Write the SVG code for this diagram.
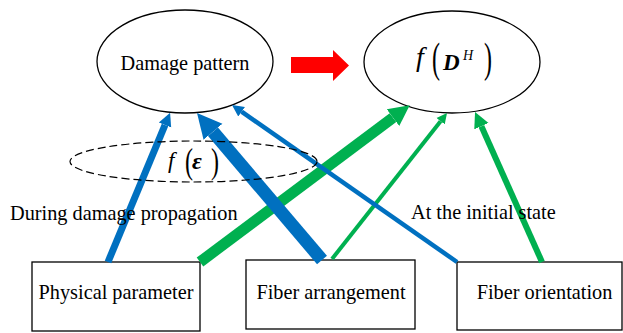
<svg xmlns="http://www.w3.org/2000/svg" width="623" height="333" viewBox="0 0 623 333">
<style>
.node{fill:#fff;stroke:#000;stroke-width:1.3}
text{font-family:"Liberation Serif","Times New Roman","DejaVu Serif",serif;fill:#000}
.lbl{font-size:20.3px}
.mi{font-style:italic}
.mb{font-style:italic;font-weight:bold}
.par{font-size:24px}
.blue{stroke:#0070C0;fill:none}
.green{stroke:#00B050;fill:none}
</style>
<defs>
<marker id="hbB" viewBox="0 0 10 10" refX="0" refY="5" markerWidth="1.9" markerHeight="2.5" orient="auto" markerUnits="strokeWidth"><path d="M0,0 L10,5 L0,10 z" fill="#0070C0"/></marker>
<marker id="hsB" viewBox="0 0 10 10" refX="0" refY="5" markerWidth="2.6" markerHeight="2.8" orient="auto" markerUnits="strokeWidth"><path d="M0,0 L10,5 L0,10 z" fill="#0070C0"/></marker>
<marker id="hbG" viewBox="0 0 10 10" refX="0" refY="5" markerWidth="1.9" markerHeight="2.5" orient="auto" markerUnits="strokeWidth"><path d="M0,0 L10,5 L0,10 z" fill="#00B050"/></marker>
<marker id="hsG" viewBox="0 0 10 10" refX="0" refY="5" markerWidth="2.6" markerHeight="2.8" orient="auto" markerUnits="strokeWidth"><path d="M0,0 L10,5 L0,10 z" fill="#00B050"/></marker>
</defs>

<g id="damage-pattern">
<ellipse class="node" cx="185" cy="61.5" rx="88" ry="51.5"/>
<text class="lbl" x="185" y="70" text-anchor="middle">Damage pattern</text>
</g>

<g id="f-DH">
<ellipse class="node" cx="452" cy="62" rx="88" ry="51"/>
<text class="mi" x="416" y="66" font-size="28">f</text>
<text class="par" transform="translate(432,72) scale(1,1.8)">(</text>
<text class="mb" x="443" y="70" font-size="23">D</text>
<text class="mi" x="463" y="60" font-size="14">H</text>
<text class="par" transform="translate(484,72) scale(1,1.8)">)</text>
</g>

<g id="red-arrow">
<polygon points="291,57 333,57 333,50 349,65.5 333,81 333,73 291,73" fill="#FF0000"/>
</g>

<g id="physical-parameter">
<rect class="node" x="32" y="262" width="168" height="69"/>
<text class="lbl" x="116" y="299" text-anchor="middle">Physical parameter</text>
</g>

<g id="fiber-arrangement">
<rect class="node" x="246" y="260" width="169" height="69"/>
<text class="lbl" x="331" y="299" text-anchor="middle">Fiber arrangement</text>
</g>

<g id="fiber-orientation">
<rect class="node" x="457" y="262" width="165" height="68"/>
<text class="lbl" x="544.5" y="299" text-anchor="middle">Fiber orientation</text>
</g>

<g id="connectors">
<line class="green" x1="200" y1="262" x2="393" y2="117.7" stroke-width="11" marker-end="url(#hbG)"/>
<line class="green" x1="332" y1="259" x2="440.6" y2="121.2" stroke-width="4" marker-end="url(#hsG)"/>
<line class="green" x1="542" y1="262" x2="481.4" y2="126.2" stroke-width="6" marker-end="url(#hsG)"/>
<line class="blue" x1="108" y1="262" x2="165" y2="125" stroke-width="7" marker-end="url(#hbB)"/>
<line class="blue" x1="322" y1="260" x2="213" y2="131.8" stroke-width="13" marker-end="url(#hbB)"/>
<line class="blue" x1="457" y1="262" x2="241.6" y2="111.7" stroke-width="4.5" marker-end="url(#hsB)"/>
</g>

<g id="f-eps">
<ellipse cx="193.5" cy="161.5" rx="123.5" ry="20.5" fill="none" stroke="#000" stroke-width="1.2" stroke-dasharray="8,4"/>
<text class="mi" x="168" y="168" font-size="23">f</text>
<text class="par" transform="translate(185,173) scale(1,1.5)">(</text>
<text class="mb" x="192" y="169" font-size="24">ε</text>
<text class="par" transform="translate(211,173) scale(1,1.5)">)</text>
</g>

<text class="lbl" x="10" y="220">During damage propagation</text>
<text class="lbl" x="411" y="219">At the initial state</text>
</svg>
